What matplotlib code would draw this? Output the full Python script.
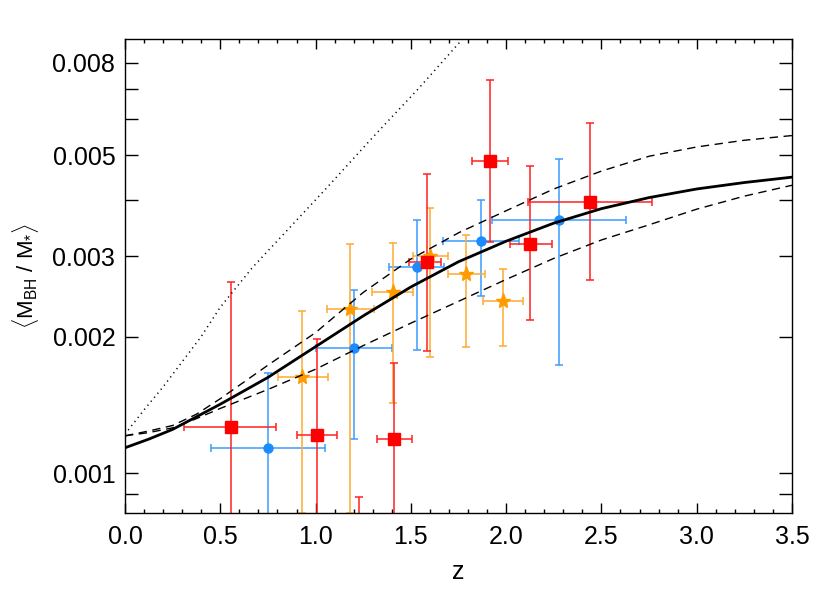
import matplotlib
matplotlib.use("Agg")
import matplotlib.pyplot as plt
from matplotlib.ticker import (FixedFormatter, FixedLocator, FormatStrFormatter,
                               MultipleLocator, NullFormatter)

plt.rcParams["font.family"] = ["Liberation Sans", "DejaVu Sans"]
plt.rcParams["mathtext.fontset"] = "custom"
plt.rcParams["mathtext.rm"] = "Liberation Sans"
plt.rcParams["mathtext.it"] = "Liberation Sans:italic"
plt.rcParams["mathtext.bf"] = "Liberation Sans:bold"

# model curves
z_mid = [0.0, 0.125, 0.25, 0.5, 0.75, 1.0, 1.25, 1.5, 1.75, 2.0, 2.25, 2.5, 2.75,
         3.0, 3.25, 3.5]
ratio_mid = [0.001139, 0.00119, 0.00125, 0.00142, 0.001626, 0.0019, 0.00222, 0.00257,
             0.00292, 0.00324, 0.00355, 0.00382, 0.00404, 0.00422, 0.00436, 0.00448]
z_band = [0.0, 0.125, 0.25, 0.375, 0.5, 0.75, 1.0, 1.25, 1.5, 1.75, 2.0, 2.25, 2.5,
          2.75, 3.0, 3.25, 3.5]
ratio_hi = [0.00121, 0.00124, 0.001275, 0.00135, 0.00146, 0.00173, 0.00204, 0.0025,
            0.00296, 0.00338, 0.00378, 0.00422, 0.00462, 0.00498, 0.00522, 0.0054,
            0.00553]
ratio_lo = [0.00121, 0.00123, 0.00126, 0.00132, 0.00139, 0.00153, 0.001695, 0.00191,
            0.00214, 0.00239, 0.00267, 0.00297, 0.00326, 0.00352, 0.00381, 0.00407,
            0.0043]
z_dot = [0.0, 0.1, 0.2, 0.3, 0.4, 0.5, 0.67, 0.85, 1.06, 1.30, 1.545, 1.77]
ratio_dot = [0.00122, 0.00138, 0.00155, 0.00176, 0.002, 0.00232, 0.00284, 0.00342,
             0.00425, 0.00548, 0.00705, 0.0090]

# red squares: z, z range, ratio, ratio range
red_z = [0.555, 1.009, 1.226, 1.411, 1.587, 1.917, 2.127, 2.441]
red_zlo = [0.31, 0.905, 1.13, 1.324, 1.49, 1.82, 2.02, 2.116]
red_zhi = [0.79, 1.112, 1.32, 1.505, 1.66, 2.01, 2.24, 2.766]
red_r = [0.001264, 0.001216, 0.0007, 0.00119, 0.00291, 0.00487, 0.0032, 0.00396]
red_rlo = [0.0006, 0.0006, 0.0005, 0.0006, 0.00186, 0.00322, 0.00217, 0.00266]
red_rhi = [0.00263, 0.00198, 0.00089, 0.00175, 0.00456, 0.00731, 0.00475, 0.0059]

# blue circles
blue_z = [0.751, 1.203, 1.53, 1.87, 2.279]
blue_zlo = [0.45, 1.0, 1.383, 1.67, 1.928]
blue_zhi = [1.048, 1.402, 1.676, 2.069, 2.63]
blue_r = [0.001139, 0.00189, 0.00285, 0.00324, 0.00361]
blue_rlo = [0.0006, 0.00119, 0.00187, 0.00246, 0.00173]
blue_rhi = [0.00166, 0.00253, 0.00361, 0.0040, 0.0049]

# orange stars
orange_z = [0.929, 1.179, 1.404, 1.598, 1.79, 1.985]
orange_zlo = [0.805, 1.062, 1.297, 1.509, 1.697, 1.88]
orange_zhi = [1.067, 1.306, 1.51, 1.697, 1.891, 2.09]
orange_r = [0.001626, 0.0023, 0.0025, 0.00301, 0.00275, 0.00239]
orange_rlo = [0.00082, 0.00082, 0.00143, 0.0018, 0.0019, 0.00191]
orange_rhi = [0.00228, 0.0032, 0.00321, 0.00384, 0.00335, 0.00282]


def errs(v, lo, hi):
    return [[a - b for a, b in zip(v, lo)], [c - a for a, c in zip(v, hi)]]


fig = plt.figure(figsize=(8.3, 5.93), dpi=100)
ax = fig.add_axes([0.1506, 0.1354, 0.8036, 0.7983])
ax.set_yscale("log")

ax.errorbar(blue_z, blue_r, xerr=errs(blue_z, blue_zlo, blue_zhi),
            yerr=errs(blue_r, blue_rlo, blue_rhi), fmt="o", ms=6.5,
            color="#1a8cff", ecolor="#3b9cff", elinewidth=1.1, capsize=2.6,
            capthick=1.1, zorder=2)
ax.errorbar(orange_z, orange_r, xerr=errs(orange_z, orange_zlo, orange_zhi),
            yerr=errs(orange_r, orange_rlo, orange_rhi), fmt="*", ms=11,
            color="#ff9a00", ecolor="#ffaa33", elinewidth=1.1, capsize=2.6,
            capthick=1.1, zorder=2)
ax.errorbar(red_z, red_r, xerr=errs(red_z, red_zlo, red_zhi),
            yerr=errs(red_r, red_rlo, red_rhi), fmt="s", ms=8,
            color="#ff0000", ecolor="#ff2020", elinewidth=1.1, capsize=2.6,
            capthick=1.1, zorder=2)

ax.plot(z_mid, ratio_mid, color="black", lw=2.0, zorder=3)
ax.plot(z_band, ratio_hi, color="black", lw=1.0, linestyle=(0, (6, 4)), zorder=3)
ax.plot(z_band, ratio_lo, color="black", lw=1.0, linestyle=(0, (6, 4)), zorder=3)
ax.plot(z_dot, ratio_dot, color="black", lw=1.1, linestyle=(0, (0.8, 2.6)), zorder=3)

ax.set_xlim(0, 3.5)
ax.set_ylim(0.00082, 0.009)

ax.xaxis.set_major_locator(MultipleLocator(0.5))
ax.xaxis.set_minor_locator(MultipleLocator(0.1))
ax.xaxis.set_major_formatter(FormatStrFormatter("%.1f"))
ax.yaxis.set_major_locator(FixedLocator([0.001, 0.002, 0.003, 0.005, 0.008]))
ax.yaxis.set_major_formatter(FixedFormatter(["0.001", "0.002", "0.003", "0.005", "0.008"]))
ax.yaxis.set_minor_locator(FixedLocator([0.0009, 0.004, 0.006, 0.007]))
ax.yaxis.set_minor_formatter(NullFormatter())

ax.tick_params(which="both", direction="in", top=True, right=True, width=1.0,
               labelsize=18, color="black")
ax.tick_params(axis="x", which="major", length=7, pad=9)
ax.tick_params(axis="x", which="minor", length=3.2)
ax.tick_params(axis="y", which="both", length=9.5, pad=7)
for s in ax.spines.values():
    s.set_linewidth(1.0)

ax.set_xlabel("z", fontsize=18, labelpad=8)
ax.set_ylabel(r"$\langle\mathrm{M}_{\mathrm{BH}}\ /\ \mathrm{M}_{*}\rangle$", fontsize=16,
              labelpad=8)

fig.savefig("out.png", dpi=100)
